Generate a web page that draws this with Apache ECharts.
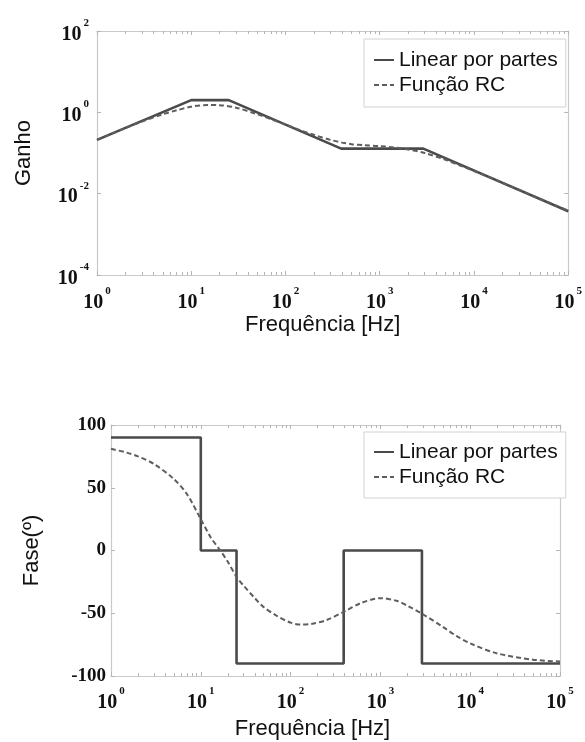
<!DOCTYPE html>
<html>
<head>
<meta charset="utf-8">
<script src="https://cdn.jsdelivr.net/npm/echarts@6/dist/echarts.min.js"></script>
<style>html,body{margin:0;padding:0;background:#fff;}#c{width:585px;height:742px;}</style>
</head>
<body>
<div id="c"></div>
<script>
// ---- data ----
const seriesNames = ['Linear por partes', 'Função RC'];
const xAxisName = 'Frequência [Hz]';
const gainName = 'Ganho';
const phaseName = 'Fase(º)';

// Gain (top)
const gainPLFreq = [1, 10, 25, 390, 2900, 100000];
const gainPL = [0.21, 2, 2, 0.128, 0.128, 0.0037];
const gainRCFreq = [1, 1.5, 2, 3, 5, 7, 10, 15, 20, 30, 50, 70, 100, 150, 200, 300, 400, 500, 700, 1000, 1500, 2000, 3000, 5000, 7000, 10000, 20000, 50000, 100000];
const gainRC = [0.21, 0.31, 0.41, 0.59, 0.9, 1.12, 1.38, 1.52, 1.5, 1.3, 0.9, 0.68, 0.5, 0.35, 0.28, 0.21, 0.18, 0.165, 0.155, 0.148, 0.135, 0.122, 0.1, 0.068, 0.05, 0.036, 0.0185, 0.0075, 0.0038];

// Phase (bottom)
const phasePLFreq = [1, 10, 25, 390, 2900, 100000];
const phasePL = [90, 0, -90, 0, -90, -90];
const phaseRCFreq = [1, 1.5, 2, 3, 5, 7, 10, 13, 16.5, 20, 25, 30, 40, 50, 70, 100, 130, 170, 250, 400, 600, 1000, 1500, 2000, 3000, 5000, 7000, 10000, 20000, 50000, 100000];
const phaseRC = [81, 78, 75, 69, 57, 45, 25, 10, 0, -9, -21, -28, -38, -45, -52, -57.5, -59, -58.5, -55.5, -48.5, -42, -38, -40, -44, -51, -61, -68, -74, -82, -87, -88.5];

const xMin = 1, xMax = 100000;
const gainMin = 1e-4, gainMax = 100;
const phaseMin = -100, phaseMax = 100, phaseStep = 50;

// ---- helpers ----
const zip = (xs, ys) => xs.map((x, i) => [x, ys[i]]);
const FRAME = '#c9c9c9';
const SERIF = '"Liberation Serif", "Times New Roman", serif';
const SANS = '"Liberation Sans", Arial, sans-serif';
const powFmt = v => '{b|10}{s|' + Math.round(Math.log10(v)) + '}';
const powRich = {
  b: { fontFamily: SERIF, fontWeight: 'bold', fontSize: 20, color: '#111', lineHeight: 27, verticalAlign: 'bottom' },
  s: { fontFamily: SERIF, fontWeight: 'bold', fontSize: 11, color: '#111', verticalAlign: 'top', padding: [0, 0, 0, 2] }
};

function xAx(grid, pos, labels, gap) {
  return {
    type: 'log', gridIndex: grid, position: pos, min: xMin, max: xMax, logBase: 10,
    axisLine: { show: true, onZero: false, lineStyle: { color: FRAME, width: 1.2 } },
    axisTick: { show: true, inside: true, length: 4, lineStyle: { color: '#b5b5b5' } },
    minorTick: { show: true, splitNumber: 9, length: 3, lineStyle: { color: '#b5b5b5' } },
    splitLine: { show: false }, minorSplitLine: { show: false },
    axisLabel: labels ? { show: true, margin: labels.margin, formatter: powFmt, rich: powRich } : { show: false },
    name: labels ? xAxisName : '',
    nameLocation: 'middle', nameGap: gap || 0,
    nameTextStyle: { fontFamily: SANS, fontSize: 22, color: '#111', padding: labels ? labels.namePad : 0 }
  };
}

function legendAt(top, pad) {
  return {
    orient: 'vertical', left: 364, top: top, padding: pad,
    itemWidth: 20, itemHeight: 14, itemGap: 3,
    backgroundColor: '#fff', borderColor: '#d2d2d2', borderWidth: 1,
    itemStyle: { opacity: 0, borderWidth: 0 },
    textStyle: { fontFamily: SANS, fontSize: 21, color: '#111', lineHeight: 22 },
    data: seriesNames, selectedMode: false
  };
}

const option = {
  animation: false,
  backgroundColor: '#fff',
  grid: [
    { left: 97, top: 31, width: 475, height: 244 },
    { left: 111, top: 425, width: 449, height: 251 }
  ],
  xAxis: [
    xAx(0, 'bottom', { margin: 11, namePad: [0, 20, 0, 0] }, 38),
    xAx(0, 'top', null),
    xAx(1, 'bottom', { margin: 10, namePad: [0, 46, 0, 0] }, 42),
    xAx(1, 'top', null)
  ],
  yAxis: [
    {
      type: 'log', gridIndex: 0, position: 'left', min: gainMin, max: gainMax, logBase: 100,
      axisLine: { show: true, onZero: false, lineStyle: { color: FRAME, width: 1.2 } },
      axisTick: { show: true, inside: true, length: 4, lineStyle: { color: '#b5b5b5' } },
      splitLine: { show: false },
      axisLabel: { margin: 8, formatter: powFmt, rich: powRich },
      name: gainName, nameLocation: 'middle', nameGap: 62, nameRotate: 90,
      nameTextStyle: { fontFamily: SANS, fontSize: 22, color: '#111' }
    },
    {
      type: 'log', gridIndex: 0, position: 'right', min: gainMin, max: gainMax, logBase: 100,
      axisLine: { show: true, onZero: false, lineStyle: { color: FRAME, width: 1.2 } },
      axisTick: { show: true, inside: true, length: 4, lineStyle: { color: '#b5b5b5' } },
      splitLine: { show: false }, axisLabel: { show: false }
    },
    {
      type: 'value', gridIndex: 1, position: 'left', min: phaseMin, max: phaseMax, interval: phaseStep,
      axisLine: { show: true, onZero: false, lineStyle: { color: FRAME, width: 1.2 } },
      axisTick: { show: true, inside: true, length: 4, lineStyle: { color: '#b5b5b5' } },
      splitLine: { show: false },
      axisLabel: { margin: 5, fontFamily: SERIF, fontWeight: 'bold', fontSize: 19, color: '#111' },
      name: phaseName, nameLocation: 'middle', nameGap: 68, nameRotate: 90,
      nameTextStyle: { fontFamily: SANS, fontSize: 22, color: '#111' }
    },
    {
      type: 'value', gridIndex: 1, position: 'right', min: phaseMin, max: phaseMax, interval: phaseStep,
      axisLine: { show: true, onZero: false, lineStyle: { color: FRAME, width: 1.2 } },
      axisTick: { show: true, inside: true, length: 4, lineStyle: { color: '#b5b5b5' } },
      splitLine: { show: false }, axisLabel: { show: false }
    }
  ],
  legend: [
    legendAt(39, [10, 8, 11, 9]),
    legendAt(432, [9, 8, 10, 9])
  ],
  series: [
    {
      name: seriesNames[0], type: 'line', xAxisIndex: 0, yAxisIndex: 0,
      data: zip(gainPLFreq, gainPL), symbol: 'none',
      lineStyle: { color: '#4a4a4a', width: 2.6 }, itemStyle: { color: '#4a4a4a' }, z: 3
    },
    {
      name: seriesNames[1], type: 'line', xAxisIndex: 0, yAxisIndex: 0,
      data: zip(gainRCFreq, gainRC), symbol: 'none', smooth: 0.3,
      lineStyle: { color: '#5e5e5e', width: 2, type: [5, 3] }, itemStyle: { color: '#5e5e5e' }, z: 4
    },
    {
      name: seriesNames[0], type: 'line', xAxisIndex: 2, yAxisIndex: 2,
      data: zip(phasePLFreq, phasePL), symbol: 'none', step: 'end',
      lineStyle: { color: '#4a4a4a', width: 2.6 }, itemStyle: { color: '#4a4a4a' }, z: 3
    },
    {
      name: seriesNames[1], type: 'line', xAxisIndex: 2, yAxisIndex: 2,
      data: zip(phaseRCFreq, phaseRC), symbol: 'none', smooth: 0.3,
      lineStyle: { color: '#5e5e5e', width: 2, type: [5, 3] }, itemStyle: { color: '#5e5e5e' }, z: 4
    }
  ]
};

const chart = echarts.init(document.getElementById('c'), null, { renderer: 'canvas' });
chart.setOption(option);
</script>
</body>
</html>
